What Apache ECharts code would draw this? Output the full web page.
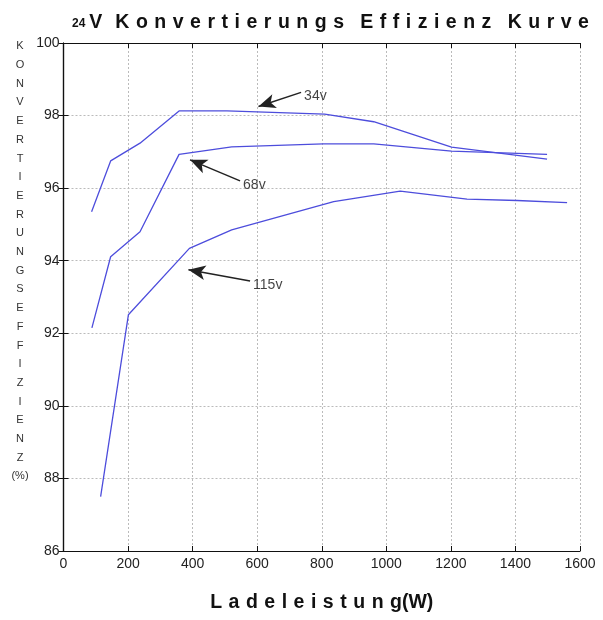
<!DOCTYPE html>
<html>
<head>
<meta charset="utf-8">
<script src="https://cdn.jsdelivr.net/npm/echarts@6/dist/echarts.min.js"></script>
<style>
  html, body { margin: 0; padding: 0; background: #fff; }
  #main { width: 603px; height: 620px; }
</style>
</head>
<body>
<div id="main"></div>
<script>
// Ladeleistung (W) / Effizienz (%) je Eingangsspannung
var names = ['34v', '68v', '115v'];
var v34 = [[87, 95.35], [146, 96.75], [237, 97.24], [359, 98.13], [506, 98.13], [809, 98.04], [961, 97.83], [1202, 97.13], [1498, 96.8]];
var v68 = [[88, 92.15], [146, 94.11], [237, 94.8], [358, 96.93], [521, 97.14], [805, 97.22], [961, 97.22], [1202, 97.02], [1498, 96.93]];
var v115 = [[115, 87.5], [201, 92.51], [390, 94.34], [521, 94.85], [837, 95.63], [1043, 95.92], [1250, 95.7], [1405, 95.66], [1560, 95.6]];
// Pfeile: Anfang (beim Text) -> Spitze
var arrowFrom = [[736, 98.64], [547, 96.2], [578, 93.44]];
var arrowTo = [[604, 98.25], [392, 96.78], [387, 93.75]];
var xTicks = [0, 200, 400, 600, 800, 1000, 1200, 1400, 1600];
var yTicks = [86, 88, 90, 92, 94, 96, 98, 100];

var lineColor = '#4d4ddc';
var myChart = echarts.init(document.getElementById('main'));

// Buchstaben sperren (wie im Original)
function spaced(s) {
    return s.split(' ').map(function (w) { return w.split('').join('\u2004'); }).join('\u2004\u2004\u2006');
}

function curve(name, data) {
    return {
        name: name,
        type: 'line',
        data: data,
        symbol: 'none',
        lineStyle: { color: lineColor, width: 1.3 },
        z: 3
    };
}

var arrowLines = [];
for (var i = 0; i < arrowFrom.length; i++) {
    arrowLines.push([{ coord: arrowFrom[i] }, { coord: arrowTo[i] }]);
}

var yLetters = 'KONVERTIERUNGSEFFIZIENZ'.split('');
yLetters.push('(%)');

var axisLine = { show: true, lineStyle: { color: '#111', width: 1.2 } };
var gridLine = { show: true, lineStyle: { color: '#bbb', type: [2, 2], width: 1 } };
var tick = { show: true, inside: true, length: 5, lineStyle: { color: '#111' } };

myChart.setOption({
    backgroundColor: '#fff',
    animation: false,
    title: {
        text: '{s|24}{b|V\u2004\u2004' + spaced('Konvertierungs Effizienz Kurve') + '}',
        left: 67,
        top: 8,
        textStyle: {
            rich: {
                s: { fontFamily: 'Liberation Sans', fontSize: 12, fontWeight: 'bold', color: '#111', verticalAlign: 'bottom', padding: [0, 4, 3, 0] },
                b: { fontFamily: 'Liberation Sans', fontSize: 19.5, fontWeight: 'bold', color: '#111' }
            }
        }
    },
    graphic: [{
        type: 'text',
        x: 20,
        y: 37,
        style: {
            text: yLetters.join('\n'),
            fontFamily: 'Liberation Sans',
            fontSize: 11,
            lineHeight: 18.7,
            fill: '#333',
            align: 'center'
        }
    }],
    grid: { left: 63.5, right: 23, top: 43, bottom: 69 },
    xAxis: [{
        type: 'value',
        min: xTicks[0],
        max: xTicks[xTicks.length - 1],
        interval: 200,
        position: 'bottom',
        name: spaced('Ladeleistung') + '(W)',
        nameLocation: 'middle',
        nameGap: 42,
        nameTextStyle: { fontFamily: 'Liberation Sans', fontSize: 19.5, fontWeight: 'bold', color: '#111' },
        axisLine: axisLine,
        axisTick: tick,
        axisLabel: { fontFamily: 'Liberation Sans', fontSize: 14, color: '#222', margin: 6, formatter: function (v) { return String(v); } },
        splitLine: gridLine
    }, {
        type: 'value',
        min: xTicks[0],
        max: xTicks[xTicks.length - 1],
        interval: 200,
        position: 'top',
        axisLine: axisLine,
        axisTick: tick,
        axisLabel: { show: false },
        splitLine: { show: false }
    }],
    yAxis: [{
        type: 'value',
        min: yTicks[0],
        max: yTicks[yTicks.length - 1],
        interval: 2,
        position: 'left',
        axisLine: axisLine,
        axisTick: tick,
        axisLabel: { fontFamily: 'Liberation Sans', fontSize: 14, color: '#222', margin: 4 },
        splitLine: gridLine
    }, {
        type: 'value',
        min: yTicks[0],
        max: yTicks[yTicks.length - 1],
        interval: 2,
        position: 'right',
        axisLine: axisLine,
        axisTick: tick,
        axisLabel: { show: false },
        splitLine: { show: false }
    }],
    series: [
        curve(names[0], v34),
        curve(names[1], v68),
        curve(names[2], v115),
        {
            name: 'beschriftung',
            type: 'scatter',
            symbolSize: 0,
            data: arrowFrom.map(function (p, k) { return [p[0], p[1], names[k]]; }),
            label: {
                show: true,
                position: 'right',
                distance: 3,
                offset: [0, 4],
                formatter: function (p) { return p.value[2]; },
                fontFamily: 'Liberation Sans',
                fontSize: 14,
                color: '#111'
            },
            markLine: {
                silent: true,
                symbol: ['none', 'arrow'],
                symbolSize: [11, 17],
                lineStyle: { color: '#222', width: 1.5, type: 'solid' },
                label: { show: false },
                data: arrowLines
            },
            z: 4
        }
    ]
});
</script>
</body>
</html>
